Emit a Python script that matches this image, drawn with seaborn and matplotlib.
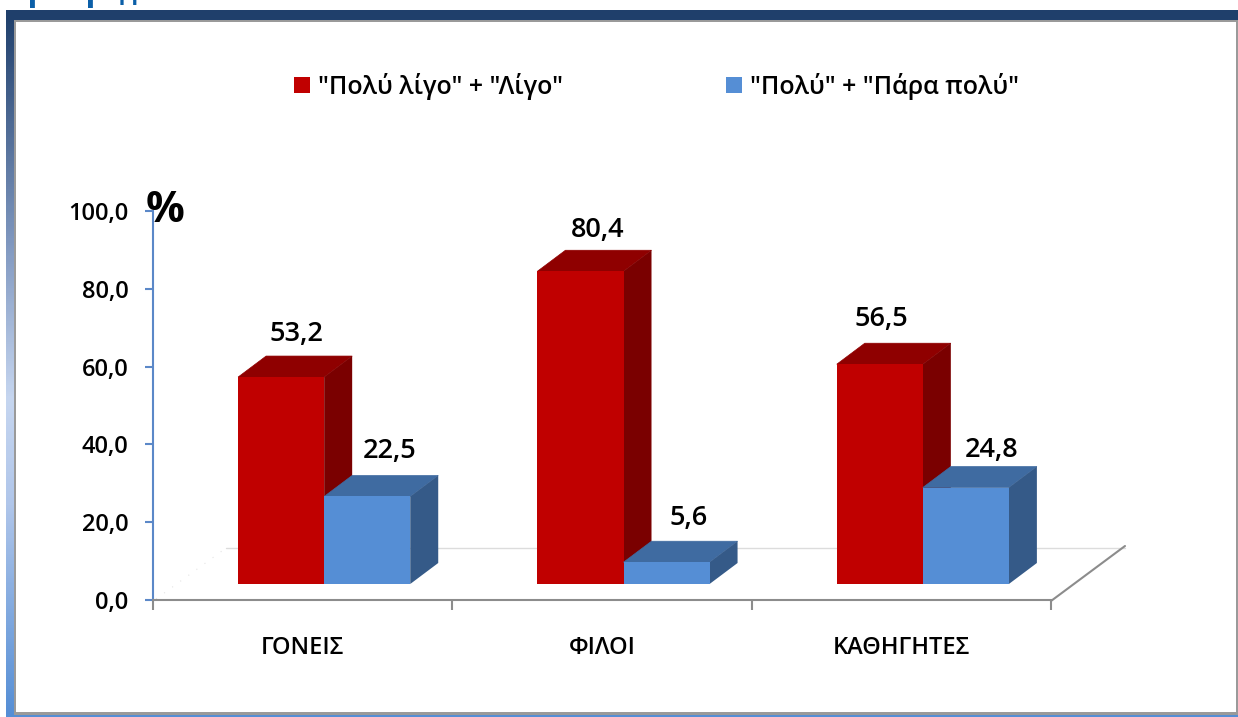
import numpy as np
import pandas as pd
import matplotlib
matplotlib.use('Agg')
import matplotlib.pyplot as plt
from matplotlib.colors import LinearSegmentedColormap
from matplotlib.patches import Polygon, Rectangle
import seaborn as sns

categories = ['ΓΟΝΕΙΣ', 'ΦΙΛΟΙ', 'ΚΑΘΗΓΗΤΕΣ']
series_names = ['"Πολύ λίγο" + "Λίγο"', '"Πολύ" + "Πάρα πολύ"']
low_values = [53.2, 80.4, 56.5]
high_values = [22.5, 5.6, 24.8]
y_ticks = [0, 20, 40, 60, 80, 100]
y_tick_labels = ['0,0', '20,0', '40,0', '60,0', '80,0', '100,0']

W, H = 1238, 717
FONT = ['Open Sans', 'DejaVu Sans']

sns.set_theme(style='white')
plt.rcParams['font.family'] = FONT

front = ['#c00000', '#558ed5']
top = ['#8f0000', '#3f6ba1']
side = ['#7a0000', '#355a88']


def px_axes(fig, left, top_px, right, bottom_px):
    return fig.add_axes([left / W, 1 - bottom_px / H, (right - left) / W, (bottom_px - top_px) / H])


fig = plt.figure(figsize=(W / 100, H / 100), dpi=100, facecolor='white')

# background in pixel coordinates: frame, floor of the 3d box
bg = fig.add_axes([0, 0, 1, 1], zorder=0)
bg.axis('off')

cmap = LinearSegmentedColormap.from_list('edge', [(0, '#1f3f6b'), (0.33, '#8098c0'), (0.55, '#c6d6f0'),
                                                  (0.7, '#b0c6ea'), (1, '#558ed5')])
bg.imshow(np.linspace(0, 1, 300).reshape(-1, 1), cmap=cmap, extent=(6, 14, 717, 10), aspect='auto', zorder=1)
bg.set_xlim(0, W)
bg.set_ylim(H, 0)
bg.add_patch(Rectangle((6, 10), W - 6, 9.5, color='#1f3f6b', lw=0, zorder=2))
bg.add_patch(Rectangle((14, 19.5), W - 14, 2.5, color='#9a9a9a', lw=0, zorder=2))
bg.add_patch(Rectangle((14, 19.5), 2, 695, color='#9a9a9a', lw=0, zorder=2))
bg.add_patch(Rectangle((14, 712), W - 14, 2.5, color='#9a9a9a', lw=0, zorder=2))
bg.add_patch(Rectangle((1235.5, 19.5), 2, 695, color='#9a9a9a', lw=0, zorder=2))
bg.add_patch(Rectangle((14, 714.5), W - 14, 3, color='#558ed5', lw=0, zorder=2))

# bits of the cut off title above the frame
for cx, ch, size in [(38, 'ρ', 24), (96, 'ρ', 24), (132, 'ρρ', 16)]:
    bg.text(cx, 0, ch, color='#0b5fa8', fontsize=size, fontweight='bold', ha='center', va='baseline',
            zorder=2, clip_on=True)

bg.plot([226, 1125], [547.5, 547.5], color='#dcdcdc', lw=1, zorder=2)
bg.plot([1051, 1125], [601, 546], color='#8c8c8c', lw=1.5, zorder=2)
bg.plot([156, 226], [599, 548], color='#e4e4e4', lw=0.8, ls=(0, (1, 8)), zorder=2)

# the axis with its ticks
ax_frame = px_axes(fig, 153, 211, 1051, 600)
ax_frame.set_zorder(1)
ax_frame.patch.set_alpha(0)
ax_frame.set_xlim(0, 3)
ax_frame.set_ylim(0, 100)
for name in ['top', 'right']:
    ax_frame.spines[name].set_visible(False)
ax_frame.spines['left'].set_color('#5b88c8')
ax_frame.spines['left'].set_linewidth(1.5)
ax_frame.spines['bottom'].set_color('#8c8c8c')
ax_frame.spines['bottom'].set_linewidth(1.5)
ax_frame.set_yticks(y_ticks, y_tick_labels)
ax_frame.tick_params(axis='y', left=True, length=6, width=1.5, color='#5b88c8', pad=11.5, labelsize=17,
                     labelcolor='black')
ax_frame.set_xticks(range(4), [''] * 4)
ax_frame.tick_params(axis='x', bottom=True, length=7, width=1.5, color='#8c8c8c')
for i, name in enumerate(categories):
    ax_frame.annotate(name, (i + 0.5, 0), xytext=(0, -48 * 0.72), textcoords='offset points', ha='center',
                      va='center', fontsize=17, fontweight=600, color='black')
ax_frame.text(-0.023, 94.7, '%', fontsize=31, fontweight='bold', ha='left', va='bottom', color='black',
              clip_on=False)
for lab in ax_frame.get_yticklabels():
    lab.set_fontweight(600)

# bars, moved up and right of the axis like the front row of a 3d chart
df = pd.DataFrame({
    'category': categories * 2,
    'series': [series_names[0]] * 3 + [series_names[1]] * 3,
    'value': low_values + high_values,
})
ax = px_axes(fig, 174.5, 195, 1072.5, 584)
ax.set_zorder(2)
ax.patch.set_alpha(0)
sns.barplot(data=df, x='category', y='value', hue='series', palette=front, saturation=1, width=0.575,
            ax=ax, linewidth=0)
ax.set_xlim(-0.5, 2.5)
ax.set_ylim(0, 100)
ax.set_xlabel('')
ax.set_ylabel('')
ax.set_xticks([])
ax.set_yticks([])
sns.despine(ax=ax, left=True, bottom=True)

dx = 28 / (1072.5 - 174.5) * 3
dy = 21 / (584 - 195) * 100
label_dx = [[15, 17, 2], [22, 22, 26]]
label_dy = [[43, 41, 45], [45, 44, 38]]

for s, container in enumerate(ax.containers):
    for b, bar in enumerate(container):
        x0, w, h = bar.get_x(), bar.get_width(), bar.get_height()
        bar.set_zorder(2 + s * 2)
        ax.add_patch(Polygon([(x0, h), (x0 + dx, h + dy), (x0 + w + dx, h + dy), (x0 + w, h)],
                             facecolor=top[s], edgecolor=top[s], lw=0.5, zorder=1 + s * 2))
        ax.add_patch(Polygon([(x0 + w, 0), (x0 + w + dx, dy), (x0 + w + dx, h + dy), (x0 + w, h)],
                             facecolor=side[s], lw=0, zorder=1 + s * 2))
        ax.annotate(f'{h:.1f}'.replace('.', ','), (x0 + w / 2, h),
                    xytext=(label_dx[s][b] * 0.72, label_dy[s][b] * 0.72), textcoords='offset points',
                    ha='center', va='center', fontsize=19.5, fontweight=600, color='black', zorder=10,
                    annotation_clip=False)

ax.legend(loc='center left', bbox_to_anchor=(294 / W, 1 - 86.5 / H), bbox_transform=fig.transFigure, ncol=2,
          frameon=False, handlelength=0.64, handleheight=0.64, handletextpad=0.32,
          columnspacing=6.5, borderpad=0, borderaxespad=0, title=None, labelcolor='black',
          prop={'weight': 600, 'size': 18})

fig.savefig('out.png', dpi=100)
